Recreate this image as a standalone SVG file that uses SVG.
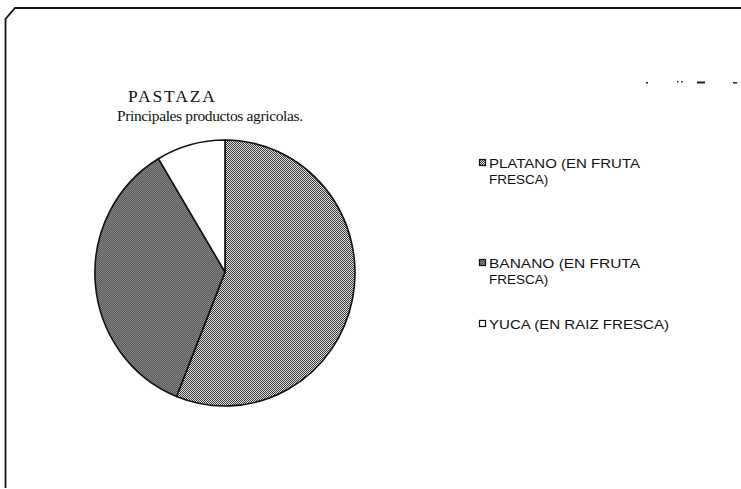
<svg xmlns="http://www.w3.org/2000/svg" width="741" height="489" viewBox="0 0 741 489">
<style>
.title{font-family:"Liberation Serif","Times New Roman",serif;font-size:16px;fill:#111}
.leg{font-family:"Liberation Sans",Arial,sans-serif;font-size:13.5px;fill:#111}
.slice{stroke:#111;stroke-width:1.6;stroke-linejoin:round}
.mk{stroke:#111;stroke-width:1.2}
</style>
<defs>
<pattern id="pPlatano" width="2" height="2" patternUnits="userSpaceOnUse">
<rect width="2" height="2" fill="#e0e0e0"/>
<rect width="1" height="1" fill="#3a3a3a"/>
<rect x="1" y="1" width="1" height="1" fill="#3a3a3a"/>
</pattern>
<pattern id="pBanano" width="2" height="2" patternUnits="userSpaceOnUse">
<rect width="2" height="2" fill="#5a5a5a"/>
<rect width="1" height="1" fill="#858585"/>
<rect x="1" y="1" width="1" height="1" fill="#858585"/>
</pattern>
</defs>
<rect width="741" height="489" fill="#ffffff"/>
<g id="frame">
<path d="M5.5,488 L5.5,19 L15,8 L741,8" fill="none" stroke="#111" stroke-width="1.8"/>
</g>
<g id="title">
<text class="title" x="128" y="102" style="font-size:17.5px" textLength="87" lengthAdjust="spacing">PASTAZA</text>
<text class="title" x="117" y="121" style="font-size:15.5px" textLength="186" lengthAdjust="spacing">Principales productos agricolas.</text>
</g>
<g id="marks" fill="#222">
<rect x="646" y="82" width="2" height="1.5"/>
<rect x="677" y="81" width="1.5" height="1.5"/>
<rect x="681" y="81" width="1.5" height="1.5"/>
<rect x="697" y="81.5" width="8" height="2"/>
<rect x="733" y="82" width="4" height="1.5"/>
</g>
<g id="pie">
<path id="slice-platano" class="slice" fill="url(#pPlatano)" d="M225,272 L225,140 A130,133 0 1 1 176.5,396.4 Z"/>
<path id="slice-banano" class="slice" fill="url(#pBanano)" d="M225,272 L176.5,396.4 A130,133 0 0 1 158.4,158.7 Z"/>
<path id="slice-yuca" class="slice" fill="#ffffff" d="M225,272 L158.4,158.7 A130,133 0 0 1 225,140 Z"/>
</g>
<g id="legend-platano">
<rect class="mk" x="479.5" y="159.5" width="6" height="6" fill="url(#pPlatano)"/>
<text class="leg" x="489" y="168" textLength="151" lengthAdjust="spacingAndGlyphs">PLATANO (EN FRUTA</text>
<text class="leg" x="489" y="184">FRESCA)</text>
</g>
<g id="legend-banano">
<rect class="mk" x="479.5" y="259.5" width="6" height="6" fill="url(#pBanano)"/>
<text class="leg" x="489" y="268" textLength="151" lengthAdjust="spacingAndGlyphs">BANANO (EN FRUTA</text>
<text class="leg" x="489" y="284">FRESCA)</text>
</g>
<g id="legend-yuca">
<rect class="mk" x="479.5" y="320.5" width="6" height="6" fill="#ffffff"/>
<text class="leg" x="489" y="329" textLength="180" lengthAdjust="spacingAndGlyphs">YUCA (EN RAIZ FRESCA)</text>
</g>
</svg>
